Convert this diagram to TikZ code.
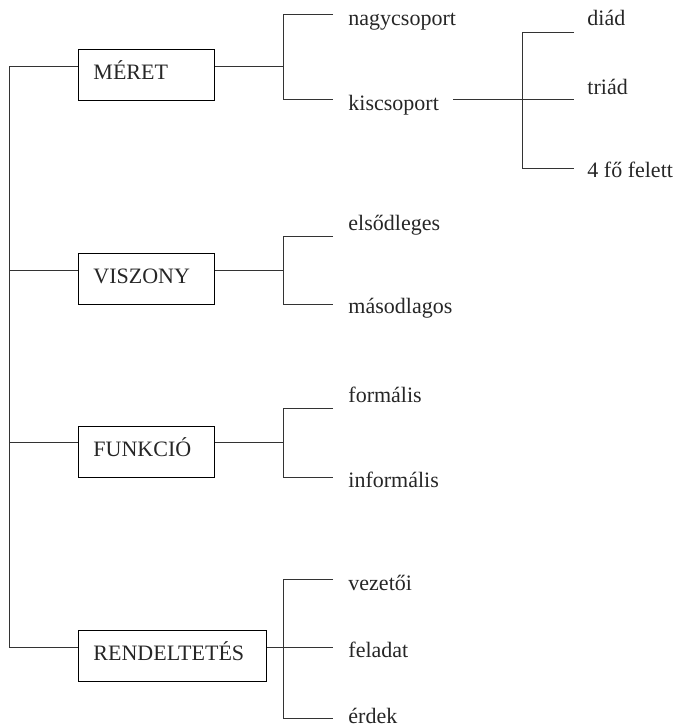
\documentclass[tikz,border=0pt]{standalone}
\usepackage{fontspec}
\setmainfont{Liberation Serif}
\begin{document}
\begin{tikzpicture}[x=1pt,y=-1pt,
  line width=0.9pt,
  every node/.style={font=\fontsize{22}{26}\selectfont, text=black!85},
  catbox/.style={draw, anchor=north west, inner xsep=15pt, inner ysep=0pt,
    minimum height=51pt, text height=14pt, text depth=4pt, align=left},
  leaf/.style={anchor=base west, inner sep=0pt},
  conn/.style={draw=black!80}
]
\useasboundingbox (0,0) rectangle (678,728);

% category boxes
\node[catbox, text width=106pt] (meret)   at (78,49)  {MÉRET};
\node[catbox, text width=106pt] (viszony) at (78,253) {VISZONY};
\node[catbox, text width=106pt] (funkcio) at (78,426) {FUNKCIÓ};
\node[catbox, text width=158pt] (rend)    at (78,630) {RENDELTETÉS};

% trunk coordinates
\coordinate (t1) at (9,66);
\coordinate (t2) at (9,270);
\coordinate (t3) at (9,442);
\coordinate (t4) at (9,647);

\draw[conn] (t1) -- (t4);
\draw[conn] (t1) -- (t1 -| meret.west);
\draw[conn] (t2) -- (t2 -| viszony.west);
\draw[conn] (t3) -- (t3 -| funkcio.west);
\draw[conn] (t4) -- (t4 -| rend.west);

% leaf labels
\node[leaf] (nagy)   at (348,25)  {nagycsoport};
\node[leaf] (kis)    at (348,110) {kiscsoport};
\node[leaf] (diad)   at (587,25)  {diád};
\node[leaf] (triad)  at (587,94)  {triád};
\node[leaf] (negy)   at (587,177) {4 fő felett};
\node[leaf] (elso)   at (348,230) {elsődleges};
\node[leaf] (maso)   at (348,313) {másodlagos};
\node[leaf] (form)   at (348,402) {formális};
\node[leaf] (inform) at (348,487) {informális};
\node[leaf] (vez)    at (348,590) {vezetői};
\node[leaf] (fel)    at (348,657) {feladat};
\node[leaf] (erdek)  at (348,723) {érdek};

% MÉRET branch
\coordinate (b1) at (283,66);
\coordinate (b1a) at (283,14);  \coordinate (e1a) at (333,14);
\coordinate (b1b) at (283,99);  \coordinate (e1b) at (333,99);
\draw[conn] (t1 -| meret.east) -- (b1);
\draw[conn] (e1a) -- (b1a) -- (b1b) -- (e1b);

% kiscsoport branch
\coordinate (k0) at (453,99);
\coordinate (k1) at (522,32);  \coordinate (k1e) at (574,32);
\coordinate (k2) at (522,168); \coordinate (k2e) at (574,168);
\coordinate (k3e) at (574,99);
\draw[conn] (k0) -- (k3e);
\draw[conn] (k1e) -- (k1) -- (k2) -- (k2e);

% VISZONY branch
\coordinate (b2) at (283,270);
\coordinate (b2a) at (283,236); \coordinate (e2a) at (333,236);
\coordinate (b2b) at (283,304); \coordinate (e2b) at (333,304);
\draw[conn] (t2 -| viszony.east) -- (b2);
\draw[conn] (e2a) -- (b2a) -- (b2b) -- (e2b);

% FUNKCIÓ branch
\coordinate (b3) at (283,442);
\coordinate (b3a) at (283,408); \coordinate (e3a) at (333,408);
\coordinate (b3b) at (283,477); \coordinate (e3b) at (333,477);
\draw[conn] (t3 -| funkcio.east) -- (b3);
\draw[conn] (e3a) -- (b3a) -- (b3b) -- (e3b);

% RENDELTETÉS branch
\coordinate (b4a) at (283,579); \coordinate (e4a) at (333,579);
\coordinate (b4b) at (283,718); \coordinate (e4b) at (333,718);
\coordinate (e4m) at (333,647);
\draw[conn] (t4 -| rend.east) -- (e4m);
\draw[conn] (e4a) -- (b4a) -- (b4b) -- (e4b);
\end{tikzpicture}
\end{document}
